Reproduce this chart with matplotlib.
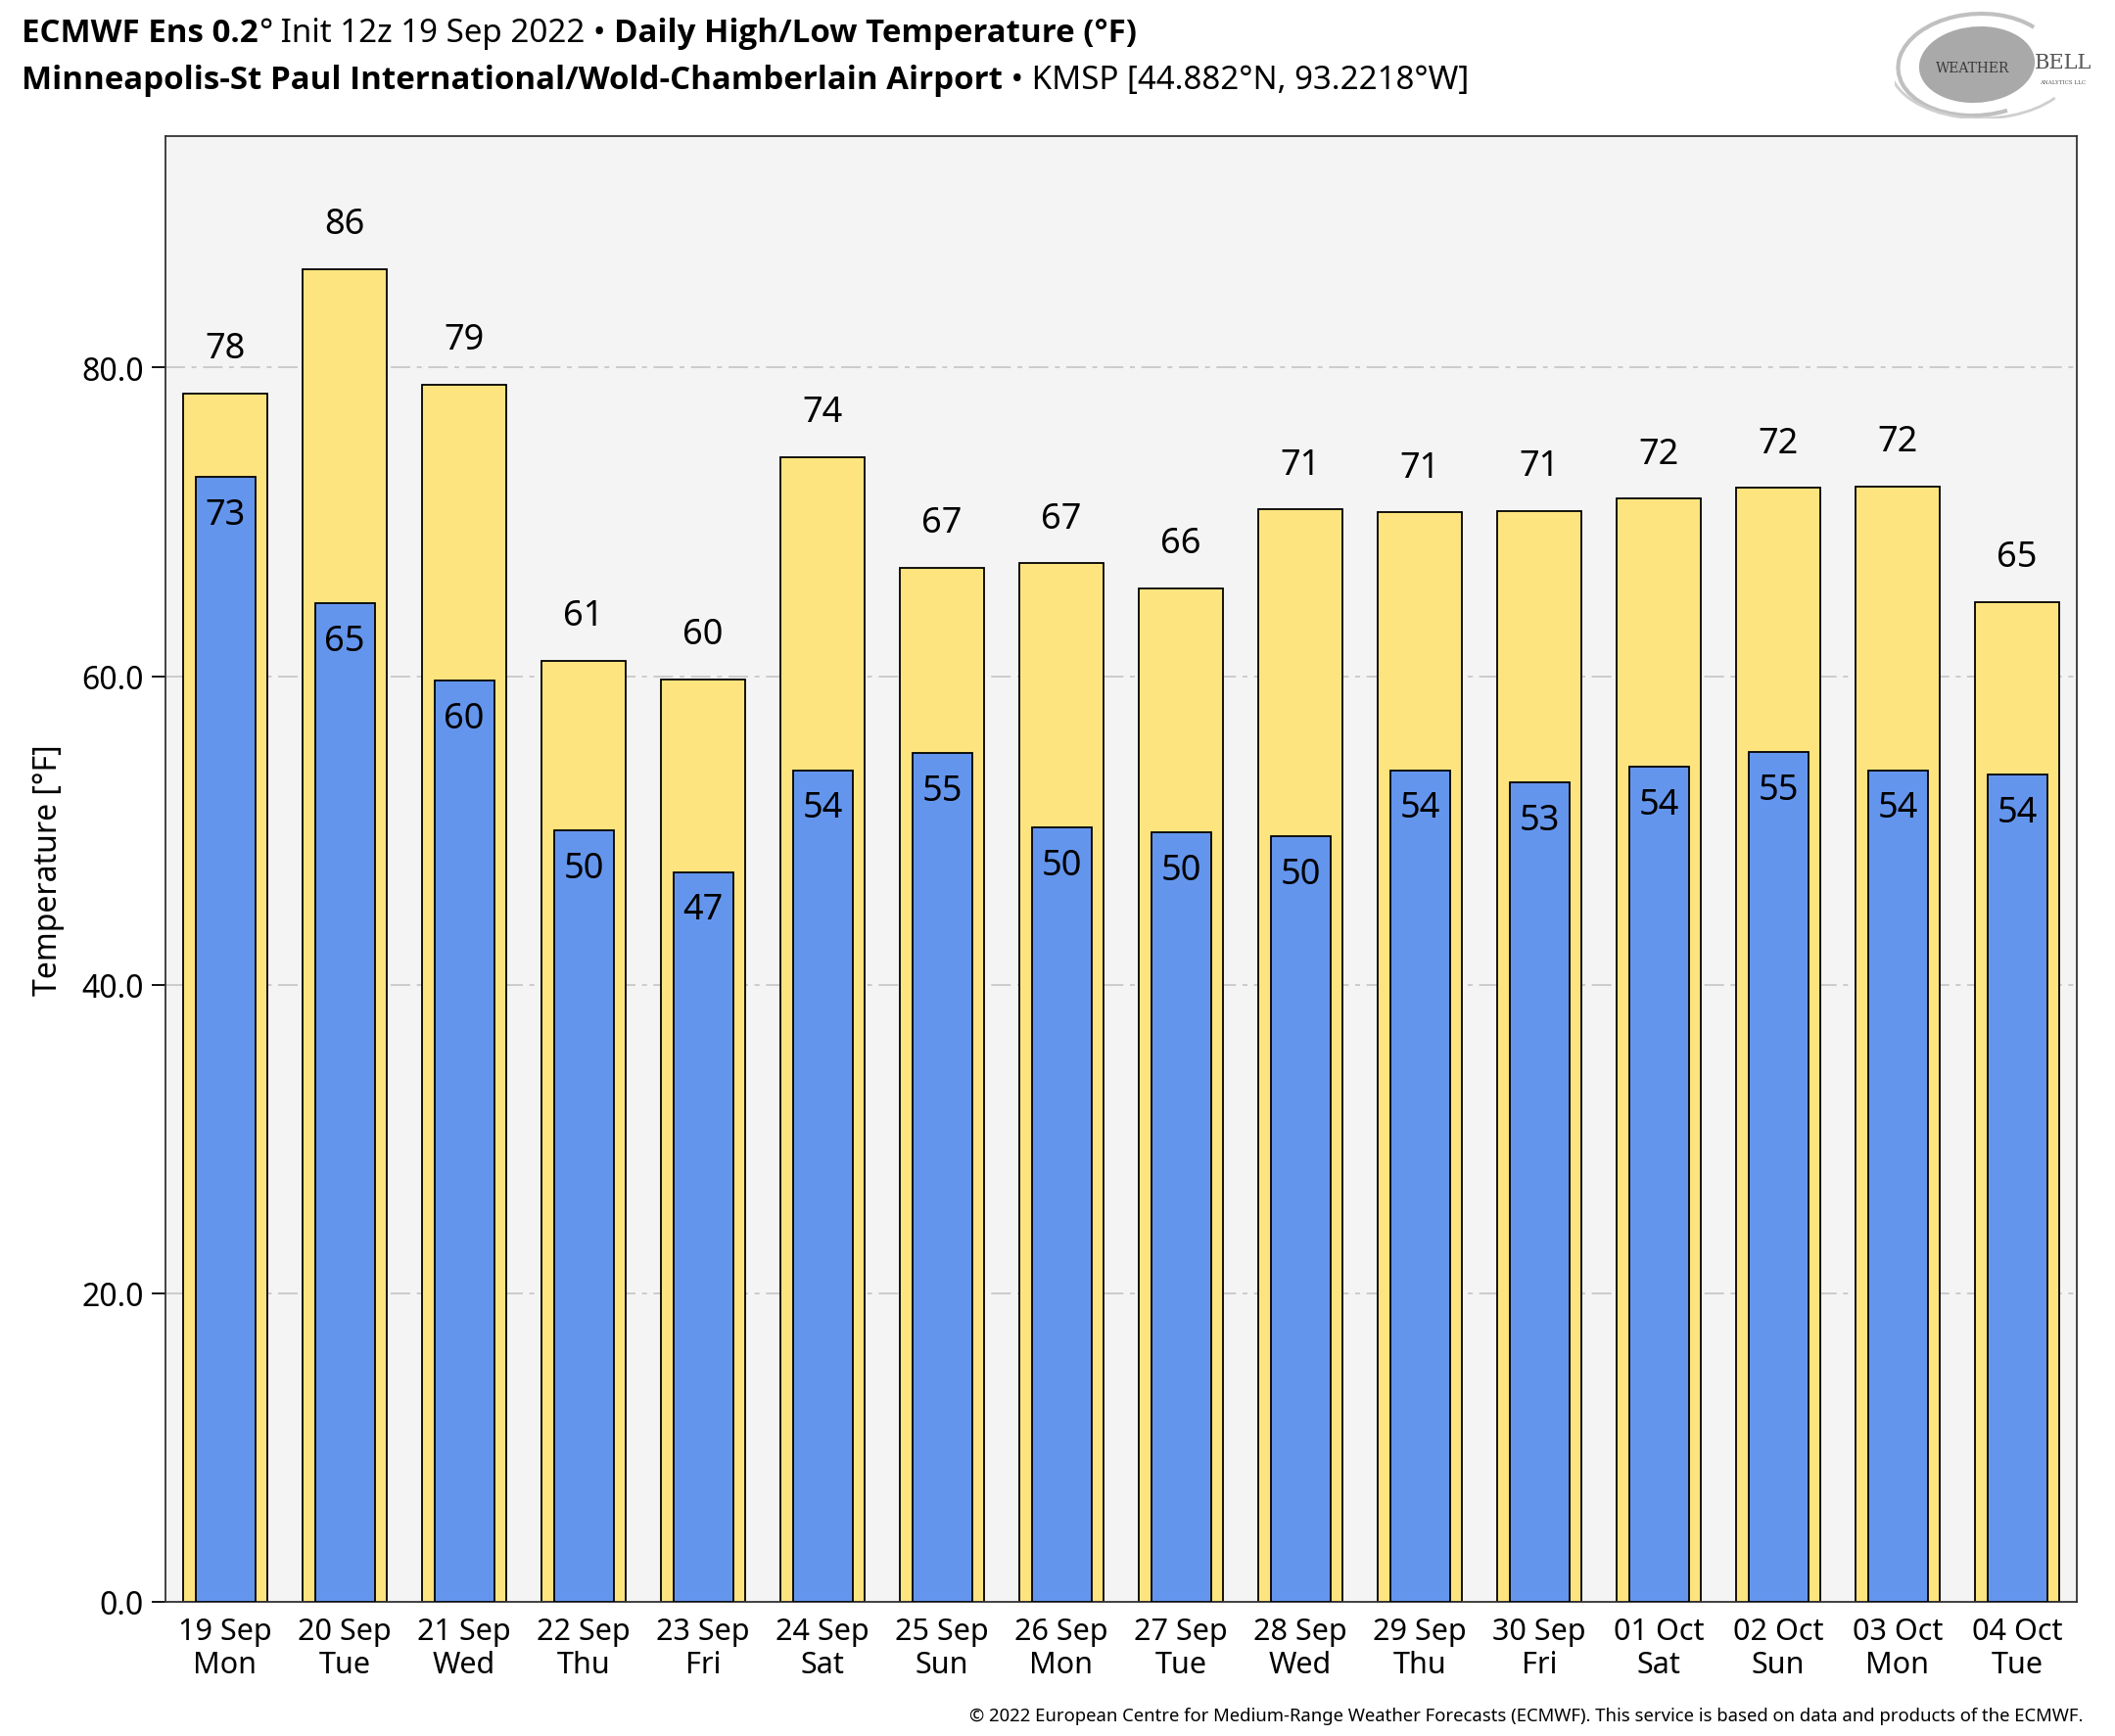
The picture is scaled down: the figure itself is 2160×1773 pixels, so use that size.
import matplotlib
matplotlib.use("Agg")
import matplotlib.pyplot as plt
from matplotlib.patches import Ellipse, Arc
import numpy as np

plt.rcParams['font.family'] = ['Noto Sans', 'DejaVu Sans']

dates = ["19 Sep", "20 Sep", "21 Sep", "22 Sep", "23 Sep", "24 Sep", "25 Sep", "26 Sep",
         "27 Sep", "28 Sep", "29 Sep", "30 Sep", "01 Oct", "02 Oct", "03 Oct", "04 Oct"]
weekdays = ["Mon", "Tue", "Wed", "Thu", "Fri", "Sat", "Sun", "Mon",
            "Tue", "Wed", "Thu", "Fri", "Sat", "Sun", "Mon", "Tue"]
highs = [78.3, 86.4, 78.9, 61.0, 59.8, 74.2, 67.0, 67.3, 65.7, 70.8, 70.6, 70.7, 71.5, 72.2, 72.3, 64.8]
lows = [72.9, 64.7, 59.7, 50.0, 47.3, 53.9, 55.0, 50.2, 49.9, 49.6, 53.9, 53.1, 54.1, 55.1, 53.9, 53.6]
yticks = [0, 20, 40, 60, 80]

W, H = 2160, 1774
fig = plt.figure(figsize=(W / 100, H / 100), dpi=100)
ax = fig.add_axes([169 / W, 1 - 1637 / H, (2121 - 169) / W, (1637 - 140) / H])
ax.set_facecolor('#f4f4f4')

x = np.arange(len(dates))
ax.bar(x, highs, width=0.70, color='#fde47f', edgecolor='black', linewidth=1.3, zorder=2)
ax.bar(x, lows, width=0.50, color='#6495ed', edgecolor='black', linewidth=1.3, zorder=3)

for xi, h, l in zip(x, highs, lows):
    ax.annotate(f"{round(h)}", (xi, h), xytext=(0, 20), textcoords='offset points',
                ha='center', va='bottom', fontsize=26, zorder=4)
    ax.annotate(f"{round(l)}", (xi, l), xytext=(0, -15), textcoords='offset points',
                ha='center', va='top', fontsize=26, zorder=4)

ax.set_xlim(-0.5, len(dates) - 0.5)
ax.set_ylim(0, 95)
ax.set_yticks(yticks)
ax.set_yticklabels([f"{v:.1f}" for v in yticks])
ax.set_xticks(x)
ax.set_xticklabels([f"{d}\n{w}" for d, w in zip(dates, weekdays)], linespacing=1.15)
ax.tick_params(axis='x', length=0, labelsize=22, pad=11)
ax.tick_params(axis='y', length=10, width=1.3, labelsize=23, pad=6)
ax.yaxis.grid(True, color='#c4c4c4', linestyle=(0, (12, 4, 3, 4)), linewidth=1.2, zorder=0)
ax.set_axisbelow(True)
for s in ax.spines.values():
    s.set_color('#333333')
    s.set_linewidth(1.3)
ax.set_ylabel("Temperature [°F]", fontsize=23, labelpad=12)

fig.canvas.draw()
renderer = fig.canvas.get_renderer()

def seq_text(parts, x0, y0, size):
    xx = x0
    for txt, bold in parts:
        if bold:
            kw = dict(family=['Open Sans', 'Noto Sans', 'DejaVu Sans'], fontweight='bold')
        else:
            kw = dict(family=['Noto Sans', 'DejaVu Sans'], fontweight='normal')
        t = fig.text(xx / W, 1 - y0 / H, txt, fontsize=size, ha='left', va='baseline', **kw)
        bb = t.get_window_extent(renderer=renderer)
        xx += bb.width

seq_text([("ECMWF Ens 0.2", True), ("°", False), (" Init 12z 19 Sep 2022 • ", False),
          ("Daily High/Low Temperature (°F)", True)], 22, 43, 23.8)
seq_text([("Minneapolis-St Paul International/Wold-Chamberlain Airport", True),
          (" • KMSP [44.882°N, 93.2218°W]", False)], 22, 91, 23.8)

fig.text(2128 / W, 1 - 1758 / H,
         "© 2022 European Centre for Medium-Range Weather Forecasts (ECMWF). This service is based on data and products of the ECMWF.",
         fontsize=13.3, ha='right', va='baseline')

# logo
lax = fig.add_axes([1935 / W, 1 - 122 / H, 200 / W, 110 / H])
lax.set_xlim(0, 1)
lax.set_ylim(0, 1)
lax.axis('off')
lax.add_patch(Ellipse((0.42, 0.5), 0.58, 0.70, angle=-10, color='#a9a9a9'))
lax.add_patch(Arc((0.42, 0.5), 0.80, 0.95, angle=-10, theta1=60, theta2=300, color='#c0c0c0', linewidth=3))
lax.add_patch(Arc((0.45, 0.5), 0.95, 1.0, angle=-10, theta1=200, theta2=330, color='#cfcfcf', linewidth=2))
lax.text(0.40, 0.47, "WEATHER", fontsize=10, color='#3a3a3a', family='DejaVu Serif', va='center', ha='center')
lax.text(0.86, 0.52, "BELL", fontsize=15, color='#555555', family='DejaVu Serif', va='center', ha='center')
lax.text(0.86, 0.34, "ANALYTICS LLC", fontsize=4, color='#555555', family='DejaVu Serif', va='center', ha='center')

fig.savefig("out.png", dpi=100, facecolor='white')
